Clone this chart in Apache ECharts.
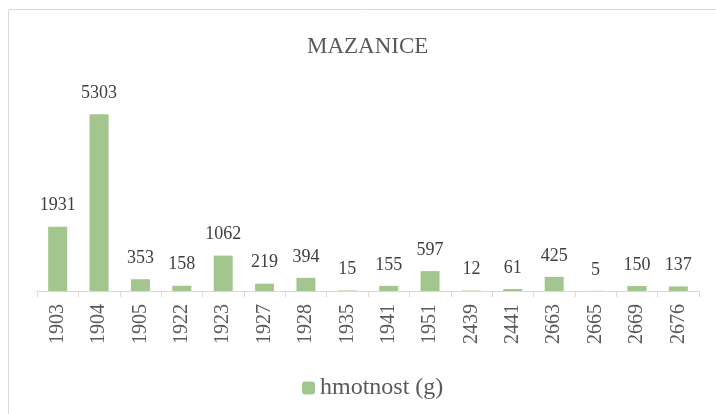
<!DOCTYPE html>
<html>
<head>
<meta charset="utf-8">
<script src="https://cdn.jsdelivr.net/npm/echarts@6/dist/echarts.min.js"></script>
<style>
  html, body { margin: 0; padding: 0; background: #fff; }
  #chart { width: 716px; height: 414px; }
</style>
</head>
<body>
<div id="chart"></div>
<script>
"use strict";
var categories = ['1903','1904','1905','1922','1923','1927','1928','1935','1941','1951','2439','2441','2663','2665','2669','2676'];
var weights = [1931, 5303, 353, 158, 1062, 219, 394, 15, 155, 597, 12, 61, 425, 5, 150, 137];
var seriesName = 'hmotnost (g)';

var chart = echarts.init(document.getElementById('chart'));
var serif = 'Liberation Serif';
var option = {
    backgroundColor: '#fff',
    textStyle: { fontFamily: serif },
    graphic: [{
        type: 'rect',
        shape: { x: 8.5, y: 9.5, width: 740, height: 440 },
        style: { fill: 'none', stroke: '#d9d9d9', lineWidth: 1 },
        silent: true
    }],
    title: {
        text: 'MAZANICE',
        left: 302,
        top: 30,
        textStyle: { fontFamily: serif, fontSize: 23, fontWeight: 'normal', color: '#595959' }
    },
    legend: {
        data: [seriesName],
        top: 371,
        left: 297,
        itemWidth: 13,
        itemHeight: 13,
        itemGap: 5,
        textStyle: { fontFamily: serif, fontSize: 24, color: '#595959' }
    },
    grid: { left: 37, right: 17, top: 91, bottom: 123 },
    xAxis: {
        type: 'category',
        data: categories,
        axisLine: { lineStyle: { color: '#d9d9d9' } },
        axisTick: { show: true, length: 6, lineStyle: { color: '#d9d9d9' } },
        axisLabel: { rotate: 90, fontFamily: serif, fontSize: 20, color: '#595959', margin: 13 }
    },
    yAxis: {
        type: 'value',
        min: 0,
        max: 6000,
        show: false,
        splitLine: { show: false }
    },
    series: [{
        name: seriesName,
        type: 'bar',
        data: weights,
        barWidth: 19,
        itemStyle: { color: '#a3c68f' },
        label: {
            show: true,
            position: 'top',
            distance: 12,
            fontFamily: serif,
            fontSize: 18,
            color: '#404040'
        }
    }]
};
chart.setOption(option);
</script>
</body>
</html>
